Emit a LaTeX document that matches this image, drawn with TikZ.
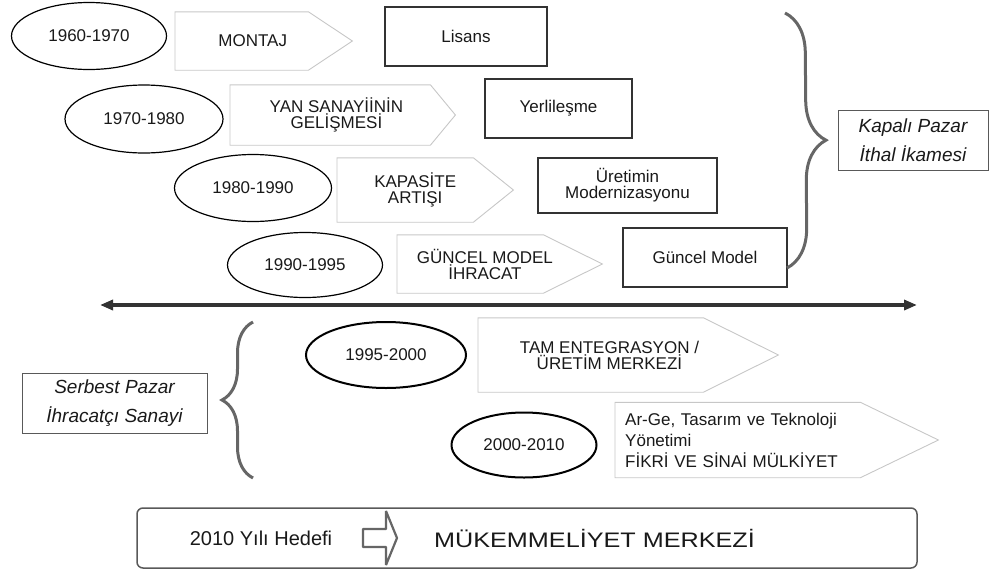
\documentclass[tikz,border=0pt]{standalone}
\usepackage{fontspec}
\setmainfont{Liberation Sans}
\usepackage{graphicx}
\usetikzlibrary{positioning,shapes.geometric,arrows.meta,decorations.pathreplacing}

\begin{document}
\begin{tikzpicture}[
    % one unit is one pixel of the reference, y runs downwards
    x=1pt, y=-1pt,
    % general settings
    align=center,
    font=\fontsize{17}{16}\selectfont,
    text=black!90,
    % nodes
    period/.style={ellipse, draw=black, line width=1.2pt, inner sep=0pt},
    periodb/.style={period, line width=2pt},
    phase/.style={rectangle, inner sep=0pt, anchor=west},
    result/.style={rectangle, draw=black!80, line width=1.2pt, inner sep=0pt},
    market/.style={rectangle, draw=black!65, line width=1pt, inner sep=0pt,
                   font=\fontsize{19}{29}\selectfont\itshape},
    goalbox/.style={rectangle, rounded corners=6pt, draw=black!65, line width=1.5pt},
    % lines
    phaseline/.style={draw=black!22, line width=0.9pt},
    era/.style={{Triangle[length=13pt,width=10pt]}-{Triangle[length=13pt,width=10pt]}, black!80, line width=3.5pt},
    braceline/.style={decorate, decoration={brace, amplitude=#1}, black!60, line width=3pt},
    hollow/.style={draw=black!60, fill=white, line width=2.2pt, line join=bevel}
  ]

  \useasboundingbox (0,0) rectangle (995,573);

  % closed market period
  \node (e1) [period, minimum width=155, minimum height=67] at (89,36)   {1960-1970};
  \node (e2) [period, minimum width=158, minimum height=68] at (144,119) {1970-1980};
  \node (e3) [period, minimum width=157, minimum height=67] at (253,188) {1980-1990};
  \node (e4) [period, minimum width=155, minimum height=65] at (305,265) {1990-1995};

  \node (p1) [phase, minimum width=155,   minimum height=58] at (175,41)  {MONTAJ};
  \node (p2) [phase, minimum width=212.5, minimum height=60] at (230,115) {YAN SANAYİİNİN\\GELİŞMESİ};
  \node (p3) [phase, minimum width=156,   minimum height=64] at (337,190) {KAPASİTE\\ARTIŞI};
  \node (p4) [phase, minimum width=175.5, minimum height=58] at (397,264) {GÜNCEL MODEL\\İHRACAT};

  \node (b1) [result, minimum width=162, minimum height=59] at (466,36.5)  {Lisans};
  \node (b2) [result, minimum width=147, minimum height=59] at (558.5,108.5) {Yerlileşme};
  \node (b3) [result, minimum width=179, minimum height=55] at (627.5,185.5) {Üretimin\\Modernizasyonu};
  \node (b4) [result, minimum width=164, minimum height=59] at (705,257.5) {Güncel Model};

  \node (closed) [market, minimum width=150, minimum height=60] at (913,140) {Kapalı Pazar\\İthal İkamesi};

  % time axis
  \coordinate (axisl) at (100,305);
  \coordinate (axisr) at (917,305);
  \draw [era] (axisl) -- (axisr);

  % free market period
  \node (e5) [periodb, minimum width=160, minimum height=66] at (386,355) {1995-2000};
  \node (e6) [periodb, minimum width=145, minimum height=65] at (524,445) {2000-2010};

  \node (p5) [phase, minimum width=262.5, minimum height=74] at (478,355) {TAM ENTEGRASYON /\\ÜRETİM MERKEZİ};
  \node (p6) [phase, minimum width=284, minimum height=75, text width=264, align=left,
              font=\fontsize{17}{21}\selectfont] at (615,440)
             {Ar-Ge, Tasarım ve Teknoloji\\Yönetimi\\FİKRİ VE SİNAİ MÜLKİYET};

  \node (open) [market, minimum width=185, minimum height=60] at (114.5,403) {Serbest Pazar\\İhracatçı Sanayi};

  % pentagon outlines, \h is half the pointer length
  \foreach \n/\h in {p1/22, p2/12.5, p3/20, p4/29.5, p5/37.5, p6/39}
    \draw [phaseline] (\n.north west) -- ([xshift=-\h]\n.north east) -- ([xshift=\h]\n.east)
                      -- ([xshift=-\h]\n.south east) -- (\n.south west) -- cycle;

  % braces
  \draw [braceline=40pt] (785,13) -- (787,268);
  \draw [braceline=31pt] (253,478) -- (253,322);

  % target
  \node (goal) [goalbox, minimum width=780, minimum height=60] at (527,538) {};
  \node (year) [font=\fontsize{20}{24}\selectfont] at (261,538) {2010 Yılı Hedefi};
  \node (excel) [font=\fontsize{21}{24}\selectfont] at (594.5,538) {\scalebox{1.2}[1]{MÜKEMMELİYET MERKEZİ}};
  \draw [hollow] (363,529) -- (386,529) -- (386,511) -- (397,538) -- (386,565)
                 -- (386,547) -- (363,547) -- cycle;
\end{tikzpicture}
\end{document}
